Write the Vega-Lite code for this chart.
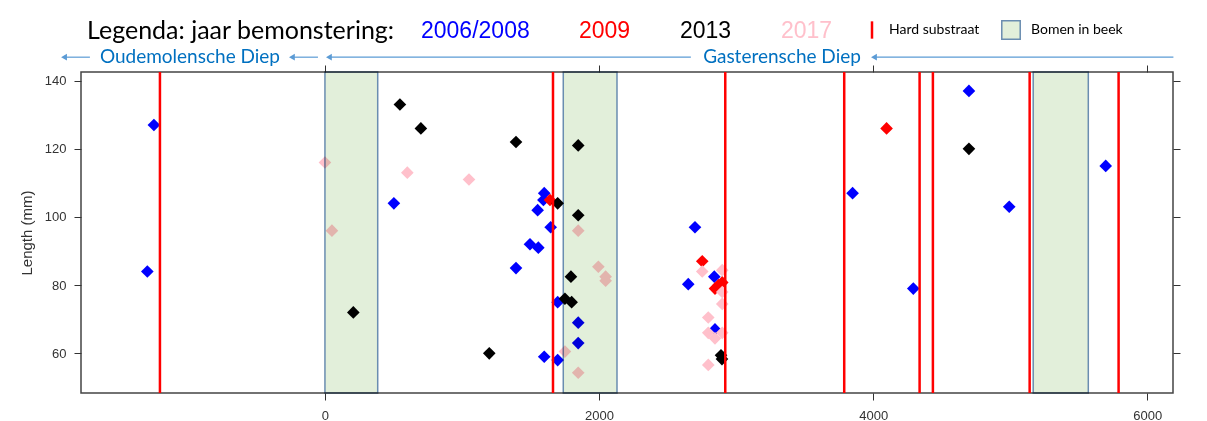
{
  "$schema": "https://vega.github.io/schema/vega-lite/v6.json",
  "width": 1092,
  "height": 321,
  "autosize": {"type": "none"},
  "padding": {"left": 81, "top": 72, "right": 34, "bottom": 28},
  "background": "white",
  "config": {"view": {"stroke": "#444444", "strokeWidth": 1.5}, "font": "Liberation Sans"},
  "datasets": {
    "fish": [
      {"x": -1248, "length": 127, "year": "2006/2008"},
      {"x": -1296, "length": 84, "year": "2006/2008"},
      {"x": 503, "length": 104, "year": "2006/2008"},
      {"x": 1600, "length": 107, "year": "2006/2008"},
      {"x": 1594, "length": 105, "year": "2006/2008"},
      {"x": 1552, "length": 102, "year": "2006/2008"},
      {"x": 1647, "length": 97, "year": "2006/2008"},
      {"x": 1496, "length": 92, "year": "2006/2008"},
      {"x": 1557, "length": 91, "year": "2006/2008"},
      {"x": 1394, "length": 85, "year": "2006/2008"},
      {"x": 1698, "length": 75, "year": "2006/2008"},
      {"x": 1848, "length": 69, "year": "2006/2008"},
      {"x": 1848, "length": 63, "year": "2006/2008"},
      {"x": 1600, "length": 59, "year": "2006/2008"},
      {"x": 1698, "length": 58, "year": "2006/2008"},
      {"x": 2700, "length": 97, "year": "2006/2008"},
      {"x": 2841, "length": 82.5, "year": "2006/2008"},
      {"x": 2651, "length": 80.3, "year": "2006/2008"},
      {"x": 2846, "length": 67, "year": "2006/2008"},
      {"x": 3850, "length": 107, "year": "2006/2008"},
      {"x": 4293, "length": 79, "year": "2006/2008"},
      {"x": 4699, "length": 137, "year": "2006/2008"},
      {"x": 4993, "length": 103, "year": "2006/2008"},
      {"x": 5697, "length": 115, "year": "2006/2008"},
      {"x": 1642, "length": 105, "year": "2009"},
      {"x": 2753, "length": 87, "year": "2009"},
      {"x": 2846, "length": 79, "year": "2009"},
      {"x": 2872, "length": 80, "year": "2009"},
      {"x": 2899, "length": 80.8, "year": "2009"},
      {"x": 4098, "length": 126, "year": "2009"},
      {"x": 207, "length": 72, "year": "2013"},
      {"x": 547, "length": 133, "year": "2013"},
      {"x": 700, "length": 126, "year": "2013"},
      {"x": 1199, "length": 60, "year": "2013"},
      {"x": 1394, "length": 122, "year": "2013"},
      {"x": 1698, "length": 104, "year": "2013"},
      {"x": 1751, "length": 76, "year": "2013"},
      {"x": 1795, "length": 82.5, "year": "2013"},
      {"x": 1800, "length": 75, "year": "2013"},
      {"x": 1848, "length": 121, "year": "2013"},
      {"x": 1848, "length": 100.5, "year": "2013"},
      {"x": 2890, "length": 59.4, "year": "2013"},
      {"x": 2897, "length": 58.3, "year": "2013"},
      {"x": 4699, "length": 120, "year": "2013"},
      {"x": 0, "length": 116, "year": "2017"},
      {"x": 51, "length": 96, "year": "2017"},
      {"x": 601, "length": 113, "year": "2017"},
      {"x": 1051, "length": 111, "year": "2017"},
      {"x": 1751, "length": 60.5, "year": "2017"},
      {"x": 1848, "length": 96, "year": "2017"},
      {"x": 1848, "length": 54.3, "year": "2017"},
      {"x": 1995, "length": 85.4, "year": "2017"},
      {"x": 2048, "length": 82.5, "year": "2017"},
      {"x": 2048, "length": 81.3, "year": "2017"},
      {"x": 2753, "length": 84, "year": "2017"},
      {"x": 2797, "length": 70.5, "year": "2017"},
      {"x": 2797, "length": 66, "year": "2017"},
      {"x": 2797, "length": 56.6, "year": "2017"},
      {"x": 2846, "length": 64.4, "year": "2017"},
      {"x": 2899, "length": 84.4, "year": "2017"},
      {"x": 2899, "length": 78, "year": "2017"},
      {"x": 2899, "length": 74.5, "year": "2017"},
      {"x": 2899, "length": 66, "year": "2017"}
    ],
    "hard": [
      {"x": -1204, "type": "Hard substraat"},
      {"x": 1664, "type": "Hard substraat"},
      {"x": 2921, "type": "Hard substraat"},
      {"x": 3789, "type": "Hard substraat"},
      {"x": 4339, "type": "Hard substraat"},
      {"x": 4436, "type": "Hard substraat"},
      {"x": 5142, "type": "Hard substraat"},
      {"x": 5791, "type": "Hard substraat"}
    ],
    "bomen": [
      {"from": 0, "to": 385, "type": "Bomen in beek"},
      {"from": 1739, "to": 2131, "type": "Bomen in beek"},
      {"from": 5168, "to": 5570, "type": "Bomen in beek"}
    ],
    "arrows": [
      {"head": -1904, "tail": -1715},
      {"head": -241, "tail": -51},
      {"head": 29, "tail": 2670},
      {"head": 4006, "tail": 6191}
    ],
    "rivers": [
      {"name": "Oudemolensche Diep", "x": -985},
      {"name": "Gasterensche Diep", "x": 3335}
    ]
  },
  "resolve": {"axis": {"x": "independent", "y": "independent"}},
  "layer": [
    {
      "data": {"name": "fish"},
      "mark": {"type": "point", "shape": "diamond", "filled": true, "size": 160, "opacity": 1},
      "encoding": {
        "x": {"field": "x", "type": "quantitative",
          "scale": {"domain": [-1780, 6188], "nice": false, "zero": false},
          "axis": {"orient": "bottom", "values": [0, 2000, 4000, 6000], "format": "d", "title": null, "grid": false, "domain": false,
            "tickSize": 7, "tickColor": "#333333", "labelFont": "Liberation Sans", "labelFontSize": 13, "labelColor": "#333333", "labelPadding": 9}},
        "y": {"field": "length", "type": "quantitative",
          "scale": {"domain": [48.35, 142.55], "nice": false, "zero": false},
          "axis": {"orient": "left", "values": [60, 80, 100, 120, 140], "title": "Length (mm)", "grid": false, "domain": false,
            "tickSize": 7, "tickColor": "#333333", "labelFont": "Liberation Sans", "labelFontSize": 13, "labelColor": "#333333", "labelPadding": 8,
            "titleFont": "Liberation Sans", "titleFontSize": 15, "titleFontWeight": "normal", "titleColor": "#333333", "titlePadding": 10}},
        "color": {"field": "year", "type": "nominal",
          "scale": {"domain": ["2006/2008", "2009", "2013", "2017"], "range": ["#0000ff", "#ff0000", "#000000", "#ffc0cb"]},
          "legend": {"orient": "none", "legendX": 6, "legendY": -53, "direction": "horizontal",
            "title": "Legenda: jaar bemonstering:", "titleOrient": "left", "titleAnchor": "middle", "titleBaseline": "middle", "titleLimit": 500,
            "titleFont": "Lato", "titleFontSize": 25, "titleFontWeight": "normal",
            "titleColor": "#000000", "titlePadding": 3,
            "labelFont": "Liberation Sans", "labelFontSize": 23, "labelLimit": 300, "symbolSize": 0, "symbolOpacity": 0, "labelOffset": 0, "columnPadding": 26,
            "encode": {"labels": {"update": {"fill": {"scale": "color", "field": "value"}}},
                       "symbols": {"update": {"size": {"value": 0}, "opacity": {"value": 0}}}}}}
      }
    },
    {
      "data": {"name": "bomen"},
      "mark": {"type": "rect", "blend": "multiply", "fillOpacity": 1, "stroke": "#6a8db0", "strokeWidth": 1.5, "strokeOpacity": 1},
      "encoding": {
        "x": {"field": "from", "type": "quantitative",
          "scale": {"domain": [-1780, 6188], "nice": false, "zero": false},
          "axis": {"orient": "top", "values": [0, 2000, 4000, 6000], "labels": false, "title": null, "grid": false, "domain": false,
            "tickSize": 7, "tickColor": "#333333"}},
        "x2": {"field": "to"},
        "fill": {"field": "type", "type": "nominal", "scale": {"range": ["#e2efda"]},
          "legend": {"orient": "none", "legendX": 920, "legendY": -52, "title": null, "symbolType": "square", "symbolSize": 340,
            "symbolStrokeColor": "#6a8db0", "symbolStrokeWidth": 1.5, "labelOffset": 10, "labelFont": "Lato", "labelFontSize": 14, "labelColor": "#000000"}}
      }
    },
    {
      "data": {"name": "hard"},
      "mark": {"type": "rule", "strokeWidth": 2.5},
      "encoding": {
        "x": {"field": "x", "type": "quantitative",
          "scale": {"domain": [-1780, 6188], "nice": false, "zero": false}, "axis": null},
        "stroke": {"field": "type", "type": "nominal", "scale": {"range": ["#ff0000"]},
          "legend": {"orient": "none", "legendX": 781, "legendY": -52, "title": null, "symbolType": "M0,-1V1", "symbolSize": 300,
            "symbolStrokeWidth": 2.5, "labelOffset": 7, "labelFont": "Lato", "labelFontSize": 14, "labelColor": "#000000"}}
      }
    },
    {
      "data": {"name": "arrows"},
      "mark": {"type": "rule", "color": "#5b9bd5", "strokeWidth": 1.2},
      "encoding": {
        "x": {"field": "tail", "type": "quantitative",
          "scale": {"domain": [-1780, 6188], "nice": false, "zero": false}, "axis": null},
        "x2": {"field": "head"},
        "y": {"datum": 146.9, "type": "quantitative",
          "scale": {"domain": [48.35, 142.55], "nice": false, "zero": false},
          "axis": {"orient": "right", "values": [60, 80, 100, 120, 140], "labels": false, "title": null, "grid": false, "domain": false,
            "tickSize": 7, "tickColor": "#333333"}}
      }
    },
    {
      "data": {"name": "arrows"},
      "mark": {"type": "point", "shape": "triangle-left", "filled": true, "size": 45, "color": "#5b9bd5", "opacity": 1},
      "encoding": {
        "x": {"field": "head", "type": "quantitative",
          "scale": {"domain": [-1780, 6188], "nice": false, "zero": false}, "axis": null},
        "y": {"datum": 146.9, "type": "quantitative",
          "scale": {"domain": [48.35, 142.55], "nice": false, "zero": false}, "axis": null}
      }
    },
    {
      "data": {"name": "rivers"},
      "mark": {"type": "text", "font": "Lato", "fontSize": 19, "color": "#0070c0", "align": "center", "baseline": "middle"},
      "encoding": {
        "x": {"field": "x", "type": "quantitative",
          "scale": {"domain": [-1780, 6188], "nice": false, "zero": false}, "axis": null},
        "y": {"datum": 146.9, "type": "quantitative",
          "scale": {"domain": [48.35, 142.55], "nice": false, "zero": false}, "axis": null},
        "text": {"field": "name"}
      }
    }
  ]
}
